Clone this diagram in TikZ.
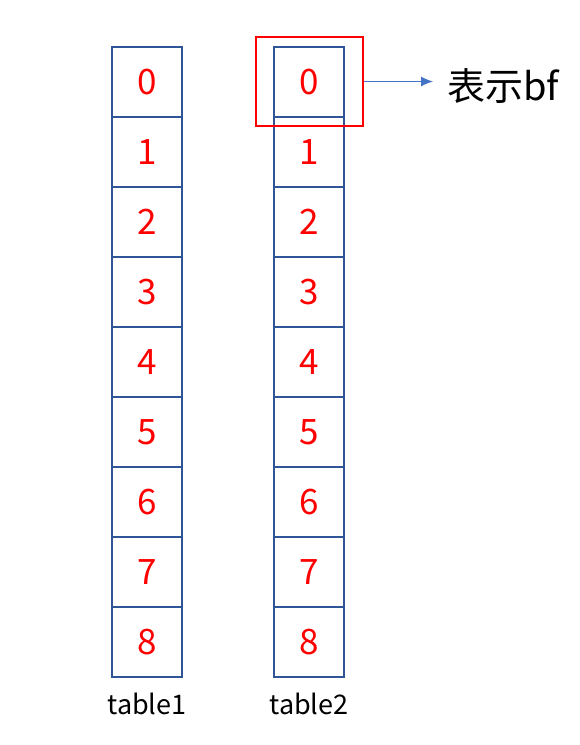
\documentclass[tikz,border=0pt]{standalone}
\usepackage{fontspec}
\setmainfont{Noto Sans CJK SC}
\usetikzlibrary{arrows.meta,positioning}

\definecolor{cellblue}{HTML}{2F5597}
\definecolor{arrowblue}{HTML}{4472C4}

\tikzset{
  cell/.style={draw=cellblue, line width=2pt, minimum width=70pt, minimum height=70pt,
    inner sep=0pt, text=red, font=\fontsize{35}{35}\selectfont},
  tablelabel/.style={font=\fontsize{27}{27}\selectfont, inner sep=0pt},
}

\begin{document}
\begin{tikzpicture}[x=1pt,y=-1pt]
\useasboundingbox (0,0) rectangle (580,745);

% Cells of table1 and table2
\foreach \i in {0,...,8} {
  \node[cell] (ta\i) at (147,82+70*\i) {\raisebox{-1.5pt}{\i}};
  \node[cell] (tb\i) at (309,82+70*\i) {\raisebox{-1.5pt}{\i}};
}

% Labels under the tables
\node[tablelabel] (lbla) at (147,704) {table1};
\node[tablelabel] (lblb) at (309,704) {table2};

% Red box round the first cell of table2
\node[draw=red, line width=2pt, minimum width=107pt, minimum height=89pt, inner sep=0pt] (sel) at (309.5,81.5) {};

% Arrow to the note
\node[anchor=west, inner sep=0pt, font=\fontsize{38}{38}\selectfont] (note) at (447,86) {表示bf};
\draw[-{Latex[length=12pt,width=10pt]}, arrowblue, line width=1pt, shorten >=14pt] (sel.east) -- (sel.east -| note.west);

\end{tikzpicture}
\end{document}
